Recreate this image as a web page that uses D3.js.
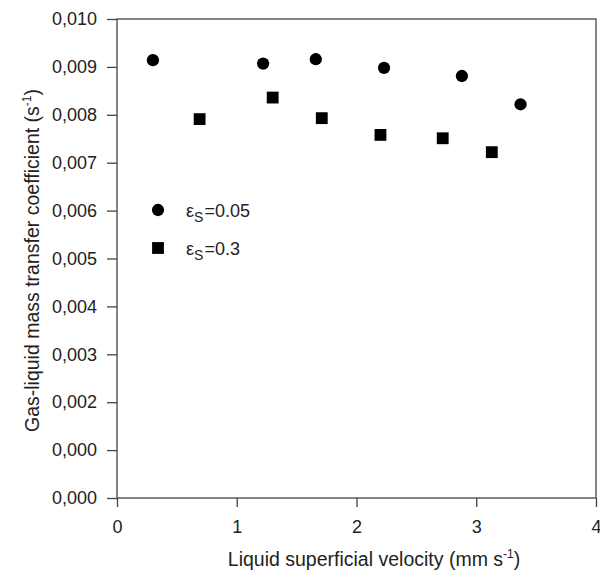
<!DOCTYPE html>
<html>
<head>
<meta charset="utf-8">
<script src="https://cdn.jsdelivr.net/npm/d3@7"></script>
<style>
body{margin:0;background:#fff;}
text{font-family:"Liberation Sans",Arial,sans-serif;fill:#222;}
</style>
</head>
<body>
<svg width="600" height="572"></svg>
<script>
// liquid superficial velocity (mm/s) and kLa (1/s)
var velLow = [0.30,1.22,1.66,2.23,2.88,3.37]
var kLow = [0.00914,0.00907,0.00916,0.00898,0.00881,0.00822]
var velHigh = [0.69,1.30,1.71,2.20,2.72,3.13]
var kHigh = [0.00791,0.00836,0.00793,0.00758,0.00751,0.00722]

var xTicks = [0,1,2,3,4]
var yTicks = [0,0.001,0.002,0.003,0.004,0.005,0.006,0.007,0.008,0.009,0.010]
var yTickLabels = ["0,000","0,000","0,002","0,003","0,004","0,005","0,006","0,007","0,008","0,009","0,010"]

var margins = {top:19,right:4,bottom:74,left:117}
var screen = {width:600,height:572}
var width = screen.width - margins.left - margins.right
var height = screen.height - margins.top - margins.bottom

var svg = d3.select("svg")

var xScale = d3.scaleLinear()
                .domain([0,4])
                .range([0,width])

var yScale = d3.scaleLinear()
                .domain([0,0.010])
                .range([height,0])

var plot = svg.append("g")
    .attr("transform","translate("+margins.left+","+margins.top+")")

// frame
plot.append("rect")
    .attr("width",width)
    .attr("height",height)
    .attr("fill","none")
    .attr("stroke","#444")
    .attr("stroke-width",1.3)

var xAxis = d3.axisBottom(xScale)
                .tickValues(xTicks)
                .tickSize(9)
                .tickPadding(13)
                .tickFormat(d3.format("d"))

var yAxis = d3.axisLeft(yScale)
                .tickValues(yTicks)
                .tickSize(10)
                .tickPadding(10)
                .tickFormat(function(d,i){return yTickLabels[i]})

plot.append("g")
    .attr("transform","translate(0,"+height+")")
    .call(xAxis)

plot.append("g")
    .call(yAxis)

plot.selectAll(".domain").remove()
plot.selectAll(".tick line").attr("stroke","#444").attr("stroke-width",1.3)
plot.selectAll(".tick text")
    .attr("font-size",18)
    .attr("font-family","Liberation Sans, Arial, sans-serif")
    .attr("fill","#222")

var circle = d3.symbol().type(d3.symbolCircle).size(118)
var square = d3.symbol().type(d3.symbolSquare).size(140)

plot.append("g")
    .selectAll("path")
    .data(velLow)
    .enter()
    .append("path")
    .attr("d",circle)
    .attr("transform",function(v,i){return "translate("+xScale(v)+","+yScale(kLow[i])+")"})
    .attr("fill","#000")

plot.append("g")
    .selectAll("path")
    .data(velHigh)
    .enter()
    .append("path")
    .attr("d",square)
    .attr("transform",function(v,i){return "translate("+xScale(v)+","+yScale(kHigh[i])+")"})
    .attr("fill","#000")

// legend
var legend = svg.append("g")
var legendItems = [{sym:circle,label:"=0.05",y:210},{sym:square,label:"=0.3",y:248}]
legendItems.forEach(function(item)
    {
        legend.append("path")
            .attr("d",item.sym)
            .attr("transform","translate(158,"+item.y+")")
            .attr("fill","#000")
        var t = legend.append("text")
            .attr("x",186)
            .attr("y",item.y+7)
            .attr("font-size",18)
        t.append("tspan").text("ε")
        t.append("tspan").attr("font-size",14).attr("dy",5).text("S")
        t.append("tspan").attr("dy",-5).attr("dx",1).text(item.label)
    })

// axis titles
var xTitle = svg.append("text")
    .attr("x",374)
    .attr("y",566)
    .attr("text-anchor","middle")
    .attr("font-size",19.5)
xTitle.append("tspan").text("Liquid superficial velocity (mm s")
xTitle.append("tspan").attr("font-size",12).attr("dy",-8).text("-1")
xTitle.append("tspan").attr("dy",8).text(")")

var yTitle = svg.append("text")
    .attr("transform","translate(39,"+(margins.top+height/2+2)+") rotate(-90)")
    .attr("text-anchor","middle")
    .attr("font-size",19.5)
yTitle.append("tspan").text("Gas-liquid mass transfer coefficient (s")
yTitle.append("tspan").attr("font-size",12).attr("dy",-8).text("-1")
yTitle.append("tspan").attr("dy",8).text(")")
</script>
</body>
</html>
